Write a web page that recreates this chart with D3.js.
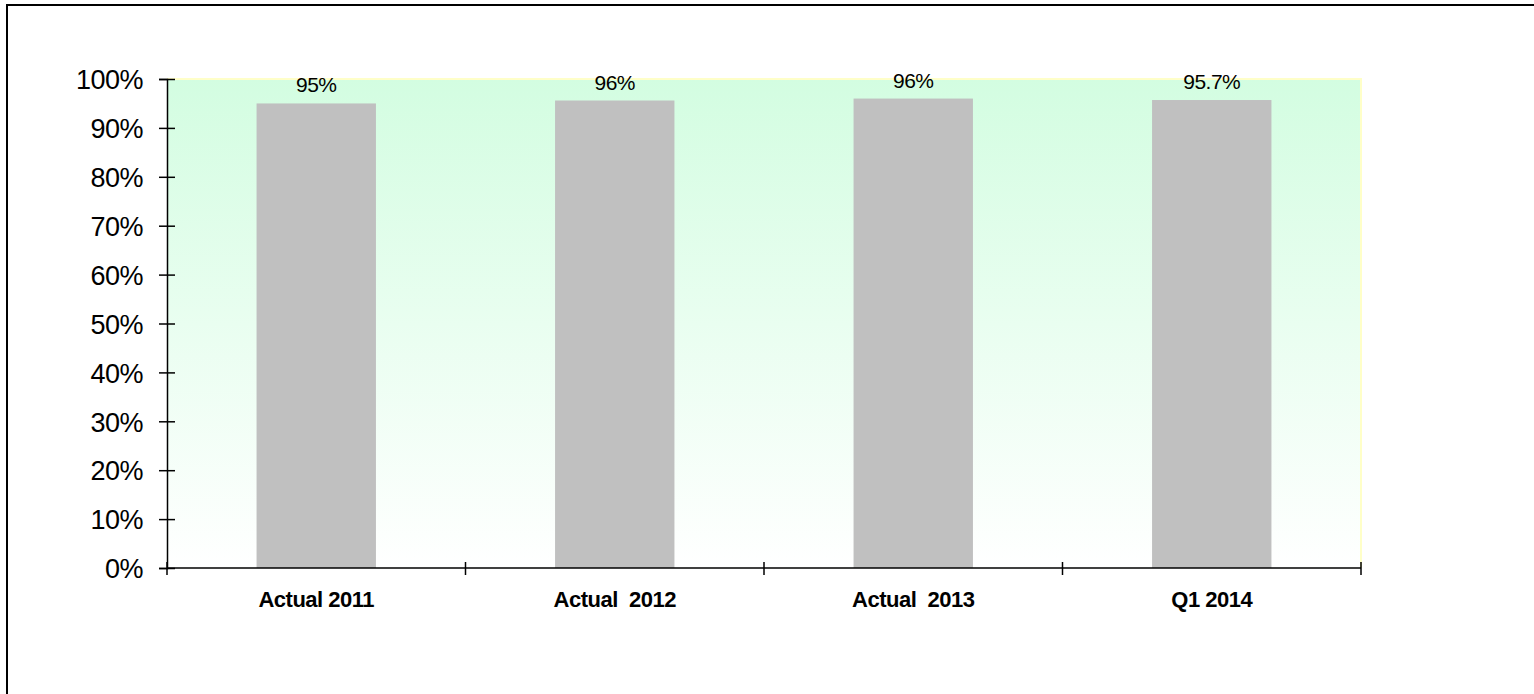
<!DOCTYPE html>
<html>
<head>
<meta charset="utf-8">
<script src="https://cdn.jsdelivr.net/npm/d3@7"></script>
<style>
  body { margin: 0; background: #fff; }
  svg { display: block; font-family: Arial, "Liberation Sans", sans-serif; }
</style>
</head>
<body>
<svg id="chart"></svg>
<script>
// chart data
const categories = ['Actual 2011', 'Actual  2012', 'Actual  2013', 'Q1 2014'];
const values = [0.95, 0.956, 0.96, 0.957];
const valueLabels = ['95%', '96%', '96%', '95.7%'];
const yTicks = [0, 0.1, 0.2, 0.3, 0.4, 0.5, 0.6, 0.7, 0.8, 0.9, 1.0];

const W = 1534, H = 694;
const plot = { left: 167, right: 1361, top: 79, bottom: 568 };

const svg = d3.select('#chart')
    .attr('width', W)
    .attr('height', H);

// outer frame (only top and left edges visible in the crop)
svg.append('rect')
    .attr('x', 7).attr('y', 5)
    .attr('width', W + 20).attr('height', H + 20)
    .attr('fill', 'none')
    .attr('stroke', '#000')
    .attr('stroke-width', 2);

// background gradient for the plot area
const grad = svg.append('defs').append('linearGradient')
    .attr('id', 'bg')
    .attr('x1', 0).attr('y1', 0)
    .attr('x2', 0).attr('y2', 1);
grad.append('stop').attr('offset', '0%').attr('stop-color', '#d3fde1');
grad.append('stop').attr('offset', '100%').attr('stop-color', '#ffffff');

const x = d3.scaleBand()
    .domain(categories)
    .range([plot.left, plot.right])
    .paddingInner(0.6)
    .paddingOuter(0.3);

const y = d3.scaleLinear()
    .domain([0, 1])
    .range([plot.bottom, plot.top]);

svg.append('rect')
    .attr('x', plot.left).attr('y', plot.top)
    .attr('width', plot.right - plot.left)
    .attr('height', plot.bottom - plot.top)
    .attr('fill', 'url(#bg)');

// pale yellow edge on top and right of the plot area
svg.append('path')
    .attr('d', `M${plot.left},${plot.top}H${plot.right}V${plot.bottom}`)
    .attr('fill', 'none')
    .attr('stroke', '#ffffc8')
    .attr('stroke-width', 2);

// bars
svg.selectAll('.bar')
    .data(values)
    .join('rect')
    .attr('class', 'bar')
    .attr('x', (v, i) => x(categories[i]))
    .attr('y', v => y(v))
    .attr('width', x.bandwidth())
    .attr('height', v => y(0) - y(v))
    .attr('fill', '#c0c0c0');

// value labels
svg.selectAll('.val')
    .data(values)
    .join('text')
    .attr('class', 'val')
    .attr('x', (v, i) => x(categories[i]) + x.bandwidth() / 2)
    .attr('y', v => y(v) - 11)
    .attr('text-anchor', 'middle')
    .attr('font-size', 21)
    .attr('letter-spacing', -0.5)
    .attr('fill', '#000')
    .text((v, i) => valueLabels[i]);

// y axis
const yAxis = d3.axisLeft(y)
    .tickValues(yTicks)
    .tickFormat(d3.format('.0%'))
    .tickSize(8);

const gy = svg.append('g')
    .attr('transform', `translate(${plot.left},0)`)
    .call(yAxis);
gy.select('.domain').attr('stroke', '#000').attr('stroke-width', 1.5);
gy.selectAll('.tick line')
    .attr('x1', -8).attr('x2', 8)
    .attr('stroke', '#000').attr('stroke-width', 1.5);
gy.selectAll('.tick text')
    .attr('font-size', 27)
    .attr('letter-spacing', -0.5)
    .attr('font-family', 'Arial, "Liberation Sans", sans-serif')
    .attr('fill', '#000')
    .attr('x', -24)
    .attr('dy', '0.36em');

// x axis: ticks between categories
const step = (plot.right - plot.left) / categories.length;
const xEdges = d3.range(categories.length + 1).map(i => plot.left + i * step);

const gx = svg.append('g');
gx.append('line')
    .attr('x1', plot.left).attr('x2', plot.right)
    .attr('y1', plot.bottom).attr('y2', plot.bottom)
    .attr('stroke', '#000').attr('stroke-width', 1.5);
gx.selectAll('.xt')
    .data(xEdges)
    .join('line')
    .attr('class', 'xt')
    .attr('x1', d => d).attr('x2', d => d)
    .attr('y1', plot.bottom - 6).attr('y2', plot.bottom + 7)
    .attr('stroke', '#000').attr('stroke-width', 1.5);
gx.selectAll('.xl')
    .data(categories)
    .join('text')
    .attr('class', 'xl')
    .attr('x', d => x(d) + x.bandwidth() / 2)
    .attr('y', 607)
    .attr('text-anchor', 'middle')
    .attr('font-size', 22)
    .attr('font-weight', 'bold')
    .attr('letter-spacing', -0.5)
    .style('white-space', 'pre')
    .attr('fill', '#000')
    .text(d => d);
</script>
</body>
</html>
